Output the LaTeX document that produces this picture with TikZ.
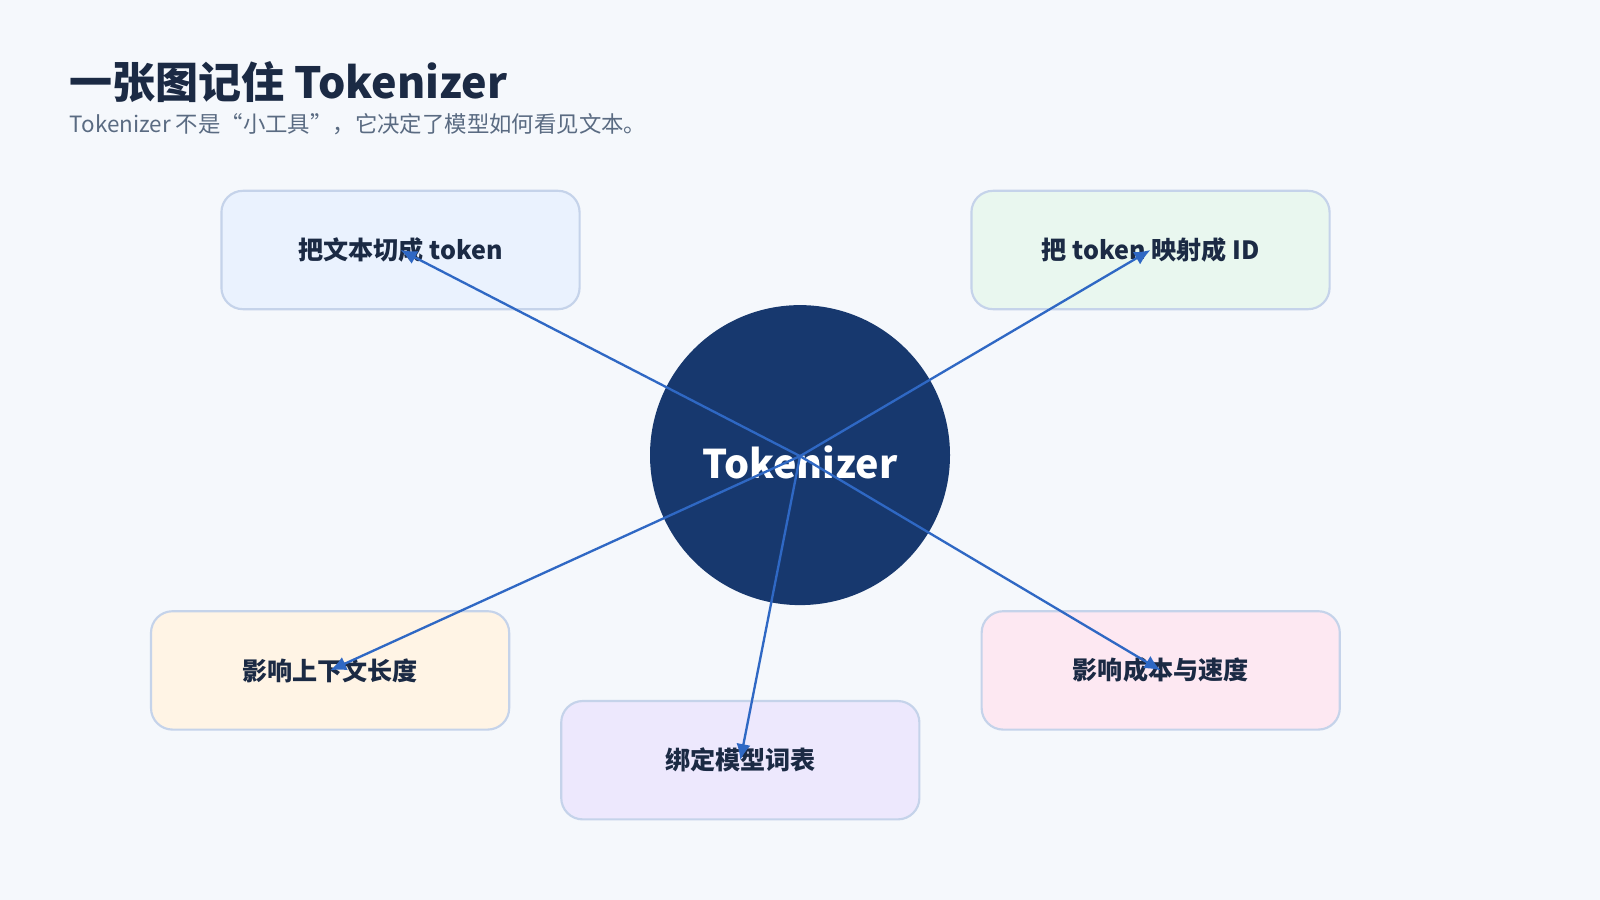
\documentclass[tikz,border=0pt]{standalone}
\usepackage{fontspec}
\setmainfont{Noto Sans CJK SC}
\usetikzlibrary{arrows.meta}
\definecolor{bg}{HTML}{F5F8FC}
\definecolor{navy}{HTML}{17386E}
\definecolor{arr}{HTML}{2F68C4}
\definecolor{bord}{HTML}{C5D3EA}
\definecolor{ink}{HTML}{1B2A44}
\definecolor{sub}{HTML}{5A6B82}
\definecolor{fa}{HTML}{EAF2FE}
\definecolor{fb}{HTML}{E9F7EF}
\definecolor{fc}{HTML}{FFF4E5}
\definecolor{fd}{HTML}{FDE8F2}
\definecolor{fe}{HTML}{EDE8FD}
\begin{document}
\begin{tikzpicture}[x=0.02cm,y=-0.02cm,
  box/.style={draw=bord,line width=1.2pt,rounded corners=12pt,minimum width=351*0.02cm,minimum height=116*0.02cm,font=\fontsize{14}{16}\selectfont\bfseries,text=ink},
  link/.style={draw=arr,line width=1.3pt,-{Latex[length=9pt,width=8pt]}}]
\fill[bg] (0,0) rectangle (1568,882);
\useasboundingbox (0,0) rectangle (1568,882);
\node[anchor=base west,font=\fontsize{24}{28}\selectfont\bfseries,text=ink,inner sep=0] (title) at (68,97) {一张图记住 Tokenizer};
\node[anchor=base west,font=\fontsize{12.5}{15}\selectfont,text=sub,inner sep=0] (subt) at (68,130) {Tokenizer 不是“小工具”，它决定了模型如何看见文本。};
\node[circle,fill=navy,minimum size=294*0.02cm,inner sep=0] (c) at (784,446) {};
\node[font=\fontsize{22}{26}\selectfont\bfseries,text=white] (ct) at (784,453) {Tokenizer};
\node[box,fill=fa] (b1) at (392.5,245) {把文本切成 token};
\node[box,fill=fb] (b2) at (1127.5,245) {把 token 映射成 ID};
\node[box,fill=fc] (b3) at (323.5,657) {影响上下文长度};
\node[box,fill=fd] (b4) at (1137.5,657) {影响成本与速度};
\node[box,fill=fe] (b5) at (725.5,745) {绑定模型词表};
\coordinate (o) at (784,447);
\draw[link] (o) -- (b1.center);
\draw[link] (o) -- (b2.center);
\draw[link] (o) -- (b3.center);
\draw[link] (o) -- (b4.center);
\draw[link] (o) -- (b5.center);
\end{tikzpicture}
\end{document}
